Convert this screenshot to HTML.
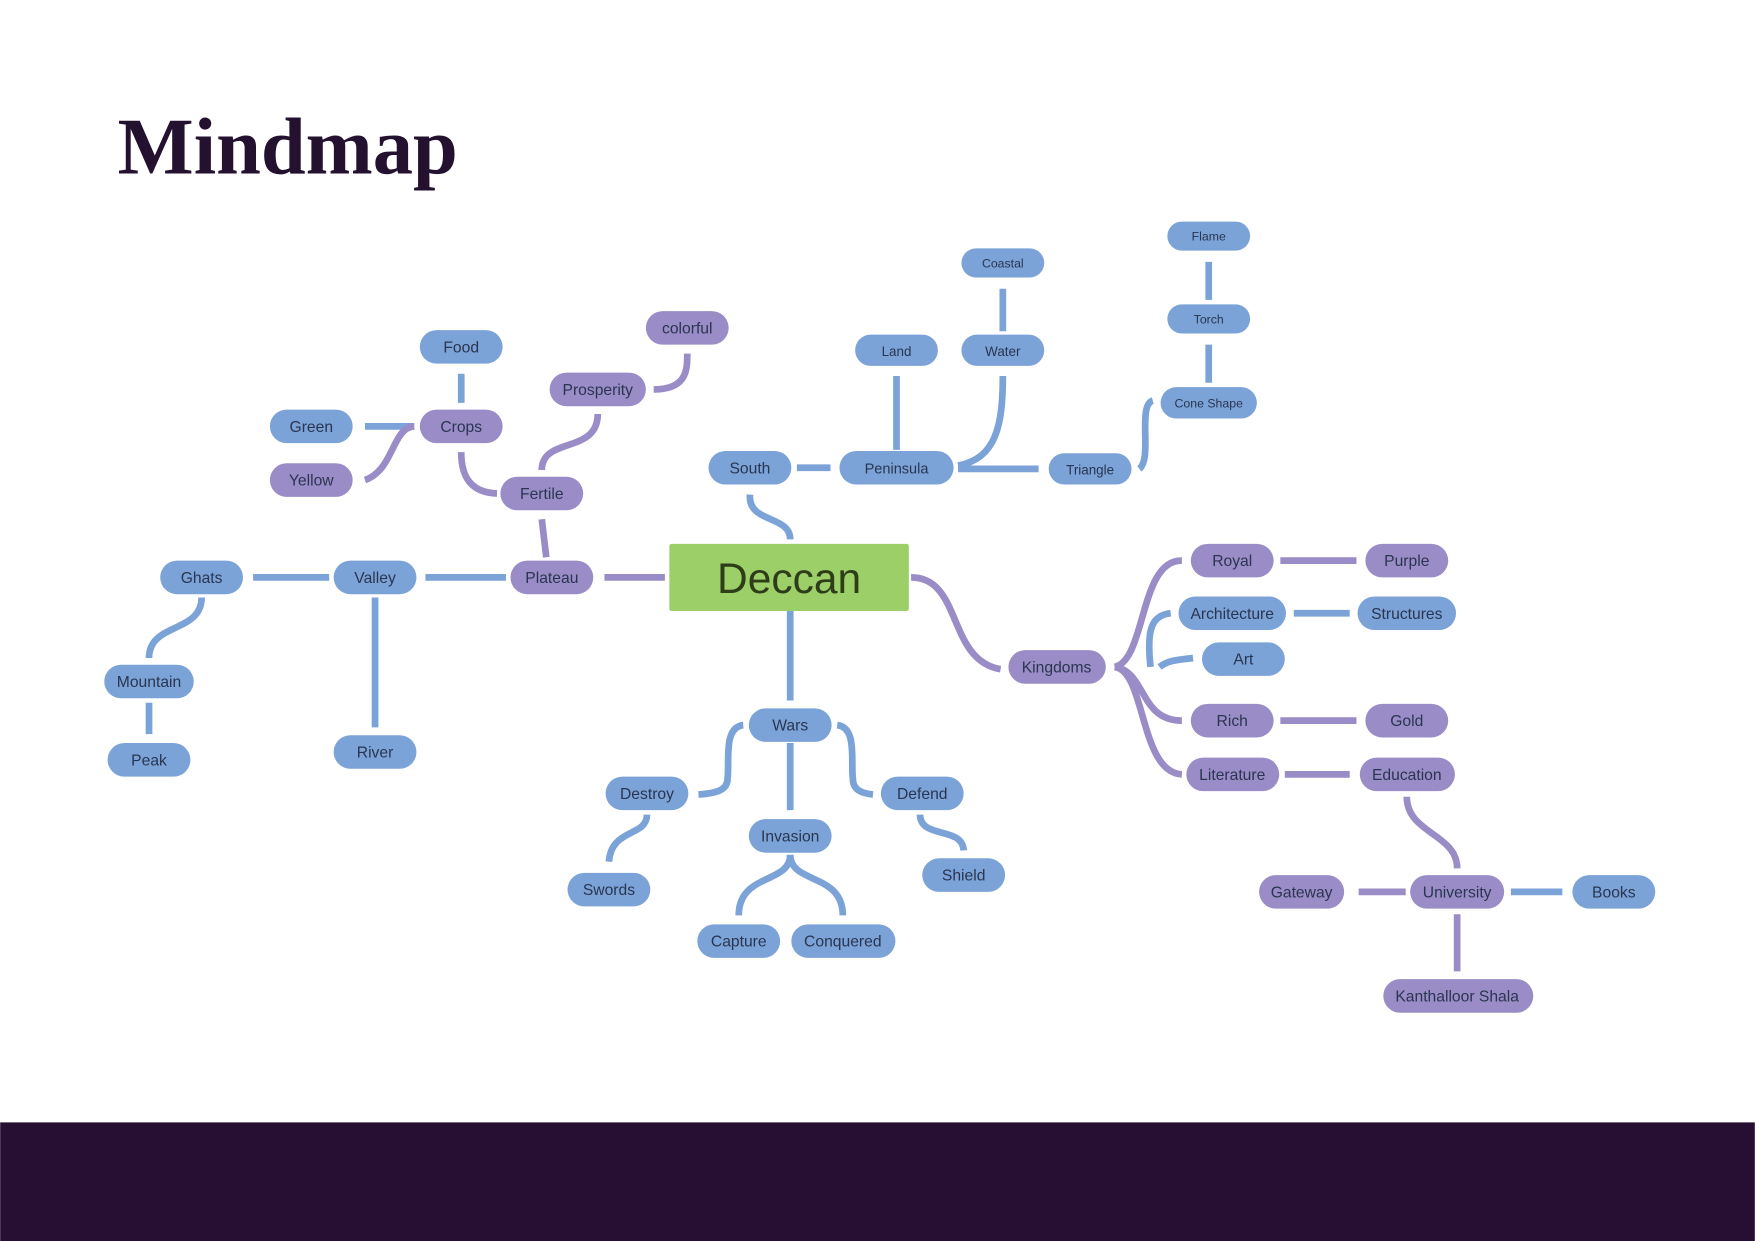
<!DOCTYPE html>
<html><head><meta charset="utf-8"><style>
html,body{margin:0;padding:0;background:#fff;}
svg{display:block}
text{font-family:"Liberation Sans",sans-serif;}
</style></head><body>
<svg width="1755" height="1241" viewBox="0 0 1568 1109" xmlns="http://www.w3.org/2000/svg">
<rect width="1568" height="1109" fill="#fff"/>
<rect x="0" y="1003" width="1568" height="106" fill="#260f33"/>
<text x="105" y="155" font-family="Liberation Serif,serif" font-weight="bold" font-size="72" fill="#24102f" style="font-family:'Liberation Serif',serif">Mindmap</text>
<g fill="none" stroke-width="6" stroke-linecap="butt">
<!-- blue connectors -->
<g stroke="#7ba3d8">
<path d="M706 546 L706 626"/>
<path d="M706 482 C706 460 668 468 670 442"/>
<path d="M712 418 L742 418"/>
<path d="M801 402 L801 336"/>
<path d="M856 416 C890 410 896 380 896 336"/>
<path d="M856 419 L928 419"/>
<path d="M896 296 L896 258"/>
<path d="M1018 419 C1030 410 1016 362 1030 358"/>
<path d="M1080 342 L1080 308"/>
<path d="M1080 268 L1080 234"/>
<path d="M706 664 L706 724"/>
<path d="M664 648 C646 650 652 680 650 696 C650 706 640 709 624 710"/>
<path d="M748 648 C766 650 760 680 762 696 C762 706 770 709 780 710"/>
<path d="M578 728 C578 748 546 740 544 770"/>
<path d="M822 728 C822 750 860 738 861 760"/>
<path d="M706 764 C706 790 660 780 660 818"/>
<path d="M706 764 C706 790 753 780 753 818"/>
<path d="M294 516 L226 516"/>
<path d="M452 516 L380 516"/>
<path d="M335 534 L335 650"/>
<path d="M180 534 C180 566 133 556 133 588"/>
<path d="M133 628 L133 656"/>
<path d="M412 360 L412 334"/>
<path d="M370 381 L326 381"/>
<path d="M1036 596 C1044 590 1050 590 1066 588"/>
<path d="M1028 596 C1024 560 1030 550 1046 548"/>
<path d="M1156 548 L1206 548"/>
<path d="M1350 797 L1396 797"/>
</g>
<g stroke="#9a8cc6">
<path d="M594 516 L540 516"/>
<path d="M814 516 C860 516 846 590 894 598"/>
<path d="M488 498 L484 464"/>
<path d="M484 420 C484 390 534 406 534 370"/>
<path d="M584 348 C614 348 614 330 614 316"/>
<path d="M444 441 C416 440 412 420 412 404"/>
<path d="M370 381 C350 382 352 420 326 429"/>
<path d="M996 596 C1024 590 1018 500 1056 501"/>
<path d="M996 596 C1024 600 1018 644 1056 644"/>
<path d="M996 596 C1024 600 1018 690 1056 692"/>
<path d="M1144 501 L1212 501"/>
<path d="M1144 644 L1212 644"/>
<path d="M1148 692 L1206 692"/>
<path d="M1257 712 C1257 745 1302 745 1302 776"/>
<path d="M1256 797 L1214 797"/>
<path d="M1302 817 L1302 868"/>
</g>
</g>
<rect x="598" y="486" width="214" height="60" rx="2" fill="#9ccf67"/>
<text x="705" y="530" font-size="38" fill="#2d3d1a" text-anchor="middle">Deccan</text>
<g font-size="14" fill="#2a3550" text-anchor="middle">
<!-- nodes: x,y center -->
<g fill="#7ba3d8">
<rect x="375" y="295" width="74" height="30" rx="15"/>
<rect x="241" y="366" width="74" height="30" rx="15"/>
<rect x="633" y="403" width="74" height="30" rx="15"/>
<rect x="750" y="403" width="102" height="30" rx="15"/>
<rect x="764" y="299" width="74" height="28" rx="14"/>
<rect x="859" y="299" width="74" height="28" rx="14"/>
<rect x="859" y="222" width="74" height="26" rx="13"/>
<rect x="937" y="405" width="74" height="28" rx="14"/>
<rect x="1037" y="346" width="86" height="28" rx="14"/>
<rect x="1043" y="272" width="74" height="26" rx="13"/>
<rect x="1043" y="198" width="74" height="26" rx="13"/>
<rect x="143" y="501" width="74" height="30" rx="15"/>
<rect x="298" y="501" width="74" height="30" rx="15"/>
<rect x="93" y="594" width="80" height="30" rx="15"/>
<rect x="96" y="664" width="74" height="30" rx="15"/>
<rect x="298" y="657" width="74" height="30" rx="15"/>
<rect x="669" y="633" width="74" height="30" rx="15"/>
<rect x="541" y="694" width="74" height="30" rx="15"/>
<rect x="787" y="694" width="74" height="30" rx="15"/>
<rect x="669" y="732" width="74" height="30" rx="15"/>
<rect x="507" y="780" width="74" height="30" rx="15"/>
<rect x="824" y="767" width="74" height="30" rx="15"/>
<rect x="623" y="826" width="74" height="30" rx="15"/>
<rect x="707" y="826" width="93" height="30" rx="15"/>
<rect x="1053" y="533" width="96" height="30" rx="15"/>
<rect x="1213" y="533" width="88" height="30" rx="15"/>
<rect x="1074" y="574" width="74" height="30" rx="15"/>
<rect x="1405" y="782" width="74" height="30" rx="15"/>
</g>
<g fill="#9a8cc6">
<rect x="577" y="278" width="74" height="30" rx="15"/>
<rect x="491" y="333" width="86" height="30" rx="15"/>
<rect x="375" y="366" width="74" height="30" rx="15"/>
<rect x="241" y="414" width="74" height="30" rx="15"/>
<rect x="447" y="426" width="74" height="30" rx="15"/>
<rect x="456" y="501" width="74" height="30" rx="15"/>
<rect x="901" y="581" width="87" height="30" rx="15"/>
<rect x="1064" y="486" width="74" height="30" rx="15"/>
<rect x="1220" y="486" width="74" height="30" rx="15"/>
<rect x="1064" y="629" width="74" height="30" rx="15"/>
<rect x="1220" y="629" width="74" height="30" rx="15"/>
<rect x="1060" y="677" width="83" height="30" rx="15"/>
<rect x="1215" y="677" width="85" height="30" rx="15"/>
<rect x="1125" y="782" width="76" height="30" rx="15"/>
<rect x="1260" y="782" width="84" height="30" rx="15"/>
<rect x="1236" y="875" width="134" height="30" rx="15"/>
</g>
<text x="412" y="315">Food</text>
<text x="278" y="386">Green</text>
<text x="670" y="423">South</text>
<text x="801" y="423" font-size="13">Peninsula</text>
<text x="801" y="318" font-size="12">Land</text>
<text x="896" y="318" font-size="12">Water</text>
<text x="896" y="239" font-size="11">Coastal</text>
<text x="974" y="424" font-size="12">Triangle</text>
<text x="1080" y="364" font-size="11">Cone Shape</text>
<text x="1080" y="289" font-size="11">Torch</text>
<text x="1080" y="215" font-size="11">Flame</text>
<text x="180" y="521">Ghats</text>
<text x="335" y="521">Valley</text>
<text x="133" y="614">Mountain</text>
<text x="133" y="684">Peak</text>
<text x="335" y="677">River</text>
<text x="706" y="653">Wars</text>
<text x="578" y="714">Destroy</text>
<text x="824" y="714">Defend</text>
<text x="706" y="752">Invasion</text>
<text x="544" y="800">Swords</text>
<text x="861" y="787">Shield</text>
<text x="660" y="846">Capture</text>
<text x="753" y="846">Conquered</text>
<text x="1101" y="553">Architecture</text>
<text x="1257" y="553">Structures</text>
<text x="1111" y="594">Art</text>
<text x="1442" y="802">Books</text>
<text x="614" y="298">colorful</text>
<text x="534" y="353">Prosperity</text>
<text x="412" y="386">Crops</text>
<text x="278" y="434">Yellow</text>
<text x="484" y="446">Fertile</text>
<text x="493" y="521">Plateau</text>
<text x="944" y="601">Kingdoms</text>
<text x="1101" y="506">Royal</text>
<text x="1257" y="506">Purple</text>
<text x="1101" y="649">Rich</text>
<text x="1257" y="649">Gold</text>
<text x="1101" y="697">Literature</text>
<text x="1257" y="697">Education</text>
<text x="1163" y="802">Gateway</text>
<text x="1302" y="802">University</text>
<text x="1302" y="895">Kanthalloor Shala</text>
</g>
</svg>
</body></html>
